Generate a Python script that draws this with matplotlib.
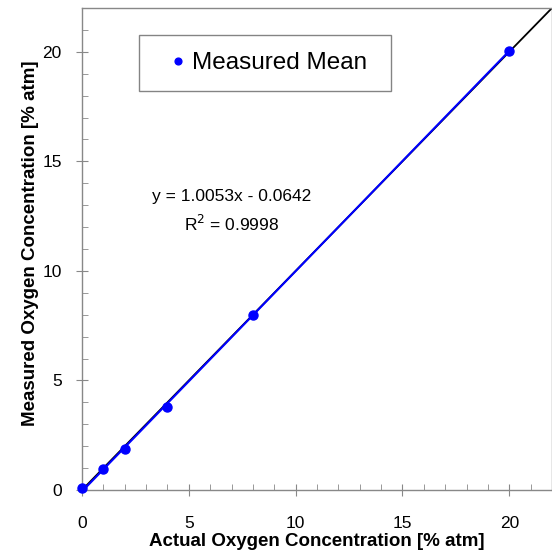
import matplotlib.pyplot as plt
from matplotlib.ticker import MultipleLocator

plt.rcParams['font.family'] = ['Liberation Sans', 'DejaVu Sans']

# measured mean vs actual concentration
actual   = [0, 1, 2, 4, 8, 20]
measured = [0.07, 0.96, 1.88, 3.80, 7.99, 20.06]

# linear fit reported on the chart
slope, intercept = 1.0053, -0.0642
fit_x = [0, 20]
ident_x = [0, 22]

fig = plt.figure(figsize=(5.52, 5.55), dpi=100)
ax = fig.add_axes([82/552, 65/555, 1 - 82/552, (490 - 8)/555])

ax.plot(ident_x, ident_x, color='black', lw=1.3, zorder=2)
ax.plot(fit_x, [slope*x + intercept for x in fit_x], color='blue', lw=1.5, zorder=3)
ax.plot(actual, measured, 'o', color='blue', ms=6.5, label='Measured Mean ', zorder=4, clip_on=False)

ax.set_xlim(0, 22)
ax.set_ylim(0, 22)
ax.set_xticks([0, 5, 10, 15, 20])
ax.set_yticks([0, 5, 10, 15, 20])
ax.xaxis.set_minor_locator(MultipleLocator(1))
ax.yaxis.set_minor_locator(MultipleLocator(1))
ax.tick_params(which='major', direction='inout', length=9, color='#888888', labelsize=12.5)
ax.tick_params(axis='x', which='major', pad=14)
ax.tick_params(axis='y', which='major', pad=10)
ax.tick_params(which='minor', direction='in', length=4, color='#888888')
for s in ax.spines.values():
    s.set_color('#888888')
    s.set_linewidth(1)

ax.set_xlabel('Actual Oxygen Concentration [% atm]', fontsize=13.5, fontweight='bold', labelpad=2)
ax.set_ylabel('Measured Oxygen Concentration [% atm]', fontsize=13.5, fontweight='bold')
ax.yaxis.set_label_coords(-43/470, (490 - 243)/482)

ax.text(7.0, 13.4, 'y = 1.0053x - 0.0642', fontsize=12.5, ha='center', va='center')
ax.text(7.0, 12.15, 'R$^2$ = 0.9998', fontsize=12.5, ha='center', va='center')

leg = ax.legend(loc='upper left', bbox_to_anchor=((139-82)/470, (490-35)/482), fontsize=17.5,
                frameon=True, fancybox=False, handletextpad=-0.3, borderpad=0.7,
                handlelength=1.8, markerscale=0.75, borderaxespad=0)
leg.get_frame().set_edgecolor('#666666')
leg.get_frame().set_linewidth(1)

fig.savefig('out.png', dpi=100)
